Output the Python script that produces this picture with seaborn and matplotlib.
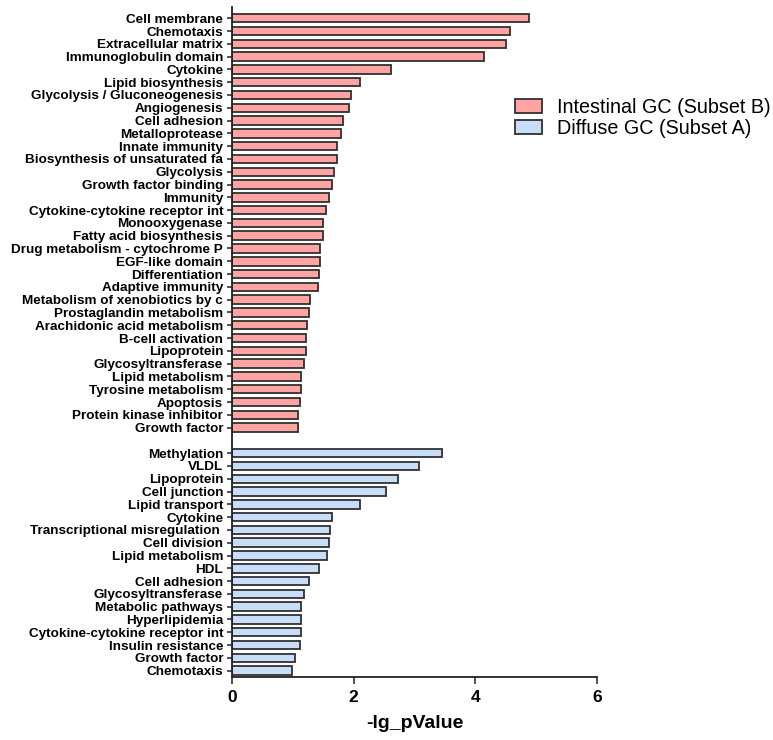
import matplotlib
matplotlib.use("Agg")
import matplotlib.pyplot as plt
import matplotlib.patches as mpatches
import pandas as pd
import seaborn as sns

# Enriched terms, -lg(p) values
intestinal_terms = [
    "Cell membrane", "Chemotaxis", "Extracellular matrix", "Immunoglobulin domain",
    "Cytokine", "Lipid biosynthesis", "Glycolysis / Gluconeogenesis", "Angiogenesis",
    "Cell adhesion", "Metalloprotease", "Innate immunity",
    "Biosynthesis of unsaturated fa", "Glycolysis", "Growth factor binding",
    "Immunity", "Cytokine-cytokine receptor int", "Monooxygenase",
    "Fatty acid biosynthesis", "Drug metabolism - cytochrome P", "EGF-like domain",
    "Differentiation", "Adaptive immunity", "Metabolism of xenobiotics by c",
    "Prostaglandin metabolism", "Arachidonic acid metabolism", "B-cell activation",
    "Lipoprotein", "Glycosyltransferase", "Lipid metabolism", "Tyrosine metabolism",
    "Apoptosis", "Protein kinase inhibitor", "Growth factor",
]
intestinal_values = [
    4.89, 4.57, 4.51, 4.14, 2.62, 2.11, 1.96, 1.92, 1.82, 1.79, 1.72,
    1.72, 1.67, 1.65, 1.60, 1.54, 1.49, 1.49, 1.45, 1.44, 1.43, 1.42,
    1.28, 1.27, 1.23, 1.21, 1.21, 1.19, 1.14, 1.13, 1.12, 1.08, 1.08,
]

diffuse_terms = [
    "Methylation", "VLDL", "Lipoprotein", "Cell junction", "Lipid transport",
    "Cytokine", "Transcriptional misregulation ", "Cell division", "Lipid metabolism",
    "HDL", "Cell adhesion", "Glycosyltransferase", "Metabolic pathways",
    "Hyperlipidemia", "Cytokine-cytokine receptor int", "Insulin resistance",
    "Growth factor", "Chemotaxis",
]
diffuse_values = [
    3.46, 3.07, 2.73, 2.54, 2.10, 1.64, 1.61, 1.60, 1.57, 1.43, 1.26,
    1.18, 1.14, 1.14, 1.14, 1.11, 1.04, 0.99,
]

groups = ["Intestinal GC (Subset B)", "Diffuse GC (Subset A)"]
colors = ["#FFA3A3", "#C8DEF8"]
xticks = [0, 2, 4, 6]

sns.set_theme(style="ticks")
plt.rcParams["font.family"] = ["Liberation Sans", "DejaVu Sans"]
plt.rcParams["text.color"] = "black"
plt.rcParams["xtick.color"] = "black"
plt.rcParams["ytick.color"] = "black"
plt.rcParams["axes.labelcolor"] = "black"

# Unique slot keys so repeated term names get their own rows; one blank slot
# separates the two groups.
rows = []
for t, v in zip(intestinal_terms, intestinal_values):
    rows.append({"slot": "B|" + t, "term": t, "value": v, "group": groups[0]})
for t, v in zip(diffuse_terms, diffuse_values):
    rows.append({"slot": "A|" + t, "term": t, "value": v, "group": groups[1]})
df = pd.DataFrame(rows)

order = ["B|" + t for t in intestinal_terms] + ["__gap__"] + ["A|" + t for t in diffuse_terms]
labels = intestinal_terms + [""] + diffuse_terms

fig = plt.figure(figsize=(7.73, 7.40), dpi=100)
ax = fig.add_axes([0.3001, 0.0851, 0.4722, 0.9058])

edge = "#303030"
sns.barplot(
    data=df, x="value", y="slot", hue="group", order=order, hue_order=groups,
    palette=colors, saturation=1, dodge=False, width=0.66, edgecolor=edge,
    linewidth=1.3, legend=False, ax=ax, orient="h",
)

ax.set_xlim(0, 6)
ax.set_ylim(len(order) - 0.5, -0.9)
ax.set_xticks(xticks)
ax.set_xticklabels([str(x) for x in xticks], fontsize=12.5, fontweight="bold")
ax.set_yticks(range(len(order)))
ax.set_yticklabels(labels, fontsize=9.7, fontweight="bold")
ax.tick_params(axis="y", length=3.8, width=1.1, pad=2.5, color="#222222")
ax.tick_params(axis="x", length=5.2, width=1.1, pad=4.5, color="#222222")
# no tick on the blank separator row
ax.yaxis.get_major_ticks()[len(intestinal_terms)].tick1line.set_visible(False)

ax.set_ylabel("")
ax.set_xlabel("-lg_pValue", fontsize=14, fontweight="bold", labelpad=7)

for side in ["top", "right"]:
    ax.spines[side].set_visible(False)
for side in ["left", "bottom"]:
    ax.spines[side].set_linewidth(1.3)
    ax.spines[side].set_color("#222222")

handles = [
    mpatches.Patch(facecolor=c, edgecolor=edge, linewidth=1.3, label=g)
    for c, g in zip(colors, groups)
]
fig.legend(
    handles=handles, loc="upper left", bbox_to_anchor=(0.666, 0.868),
    frameon=False, borderpad=0, borderaxespad=0, fontsize=14.2,
    handlelength=1.39, handleheight=0.72, handletextpad=0.73, labelspacing=0.12,
)

fig.savefig("out.png", dpi=100)
